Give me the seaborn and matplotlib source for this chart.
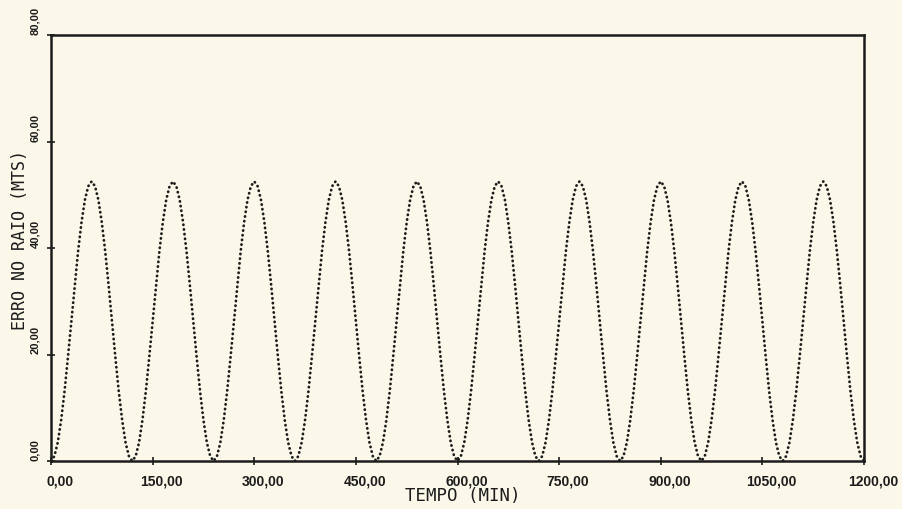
import matplotlib
matplotlib.use("Agg")
import matplotlib.pyplot as plt
import matplotlib.transforms as mtransforms
import seaborn as sns
import pandas as pd

# ---- data (5-minute steps, 0..1200 min) ----
tempo_step = 5
erro = [
    0.0,
    0.9, 3.5, 7.7, 13.1, 19.5, 26.2, 33.0, 39.4, 44.8, 49.0, 51.6, 52.5, 51.6, 49.0, 44.8, 39.4, 33.0, 26.2, 19.5, 13.1, 7.7, 3.5, 0.9, 0.0,
    0.9, 3.5, 7.7, 13.1, 19.5, 26.2, 33.0, 39.4, 44.8, 49.0, 51.6, 52.5, 51.6, 49.0, 44.8, 39.4, 33.0, 26.2, 19.5, 13.1, 7.7, 3.5, 0.9, 0.0,
    0.9, 3.5, 7.7, 13.1, 19.5, 26.2, 33.0, 39.4, 44.8, 49.0, 51.6, 52.5, 51.6, 49.0, 44.8, 39.4, 33.0, 26.2, 19.5, 13.1, 7.7, 3.5, 0.9, 0.0,
    0.9, 3.5, 7.7, 13.1, 19.5, 26.2, 33.0, 39.4, 44.8, 49.0, 51.6, 52.5, 51.6, 49.0, 44.8, 39.4, 33.0, 26.2, 19.5, 13.1, 7.7, 3.5, 0.9, 0.0,
    0.9, 3.5, 7.7, 13.1, 19.5, 26.2, 33.0, 39.4, 44.8, 49.0, 51.6, 52.5, 51.6, 49.0, 44.8, 39.4, 33.0, 26.2, 19.5, 13.1, 7.7, 3.5, 0.9, 0.0,
    0.9, 3.5, 7.7, 13.1, 19.5, 26.2, 33.0, 39.4, 44.8, 49.0, 51.6, 52.5, 51.6, 49.0, 44.8, 39.4, 33.0, 26.2, 19.5, 13.1, 7.7, 3.5, 0.9, 0.0,
    0.9, 3.5, 7.7, 13.1, 19.5, 26.2, 33.0, 39.4, 44.8, 49.0, 51.6, 52.5, 51.6, 49.0, 44.8, 39.4, 33.0, 26.2, 19.5, 13.1, 7.7, 3.5, 0.9, 0.0,
    0.9, 3.5, 7.7, 13.1, 19.5, 26.2, 33.0, 39.4, 44.8, 49.0, 51.6, 52.5, 51.6, 49.0, 44.8, 39.4, 33.0, 26.2, 19.5, 13.1, 7.7, 3.5, 0.9, 0.0,
    0.9, 3.5, 7.7, 13.1, 19.5, 26.2, 33.0, 39.4, 44.8, 49.0, 51.6, 52.5, 51.6, 49.0, 44.8, 39.4, 33.0, 26.2, 19.5, 13.1, 7.7, 3.5, 0.9, 0.0,
    0.9, 3.5, 7.7, 13.1, 19.5, 26.2, 33.0, 39.4, 44.8, 49.0, 51.6, 52.5, 51.6, 49.0, 44.8, 39.4, 33.0, 26.2, 19.5, 13.1, 7.7, 3.5, 0.9, 0.0,
]
tempo = [i * tempo_step for i in range(len(erro))]

x_ticks = [0, 150, 300, 450, 600, 750, 900, 1050, 1200]
x_tick_labels = ["0,00", "150,00", "300,00", "450,00", "600,00",
                 "750,00", "900,00", "1050,00", "1200,00"]
y_ticks = [0, 20, 40, 60, 80]
y_tick_labels = ["0,00", "20,00", "40,00", "60,00", "80,00"]
x_label = "TEMPO (MIN)"
y_label = "ERRO NO RAIO (MTS)"

# ---- style ----
sns.set_style("ticks")
paper = "#fbf8e9"
ink = "#1c1c1c"
plt.rcParams["font.family"] = ["DejaVu Sans Mono", "DejaVu Sans"]

df = pd.DataFrame({"tempo": tempo, "erro": erro})

fig = plt.figure(figsize=(9.02, 5.09), dpi=100, facecolor=paper)
ax = fig.add_axes([51 / 902, 48 / 509, 813 / 902, 426 / 509])
ax.set_facecolor(paper)

sns.lineplot(data=df, x="tempo", y="erro", ax=ax, color=ink,
             linewidth=2.0, linestyle=(0, (0.1, 1.6)),
             dash_capstyle="round", sort=False, estimator=None)

ax.set_xlim(0, 1200)
ax.set_ylim(0, 80)

for s in ax.spines.values():
    s.set_visible(True)
    s.set_linewidth(1.8)
    s.set_color(ink)

ax.tick_params(axis="both", direction="inout", length=6, width=1.2,
               color=ink, labelcolor=ink)
ax.tick_params(axis="x", pad=6.5)
ax.tick_params(axis="y", pad=5)

tickfont = ["Liberation Sans", "DejaVu Sans"]
ax.set_xticks(x_ticks)
ax.set_xticklabels(x_tick_labels, fontsize=10, family=tickfont,
                   fontweight="bold")
offset = mtransforms.ScaledTranslation(9 / 100, 0, fig.dpi_scale_trans)
for lab in ax.get_xticklabels():
    lab.set_transform(lab.get_transform() + offset)

ax.set_yticks(y_ticks)
ax.set_yticklabels(y_tick_labels, fontsize=8, family=tickfont,
                   fontweight="bold", rotation=90, va="bottom")

ax.set_xlabel(x_label, fontsize=12.5, color=ink)
ax.set_ylabel(y_label, fontsize=12, color=ink)
ax.xaxis.set_label_coords((463 - 51) / 813, (461 - 496) / 426)
ax.xaxis.label.set_va("center")
ax.yaxis.set_label_coords((20 - 51) / 813, (461 - 240) / 426)
ax.yaxis.label.set_va("center")

fig.savefig("out.png", dpi=100, facecolor=paper)
